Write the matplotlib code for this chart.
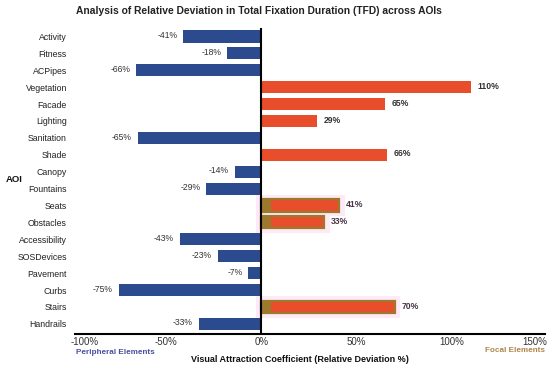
import numpy as np
import matplotlib
matplotlib.use("Agg")
import matplotlib.pyplot as plt

plt.rcParams["font.family"] = ["Liberation Sans", "DejaVu Sans"]

aois = ["Activity", "Fitness", "ACPipes", "Vegetation", "Facade", "Lighting",
        "Sanitation", "Shade", "Canopy", "Fountains", "Seats", "Obstacles",
        "Accessibility", "SOSDevices", "Pavement", "Curbs", "Stairs", "Handrails"]
deviation = [-41, -18, -66, 110, 65, 29, -65, 66, -14, -29, 41, 33,
             -43, -23, -7, -75, 70, -33]
highlighted = ["Seats", "Obstacles", "Stairs"]
xticks = [-100, -50, 0, 50, 100, 150]

blue = "#2c4a8e"
orange = "#e84e2c"
olive = "#9b7a2e"
pink = "#fdeaf6"

fig = plt.figure(figsize=(5.5, 3.69), dpi=100)
ax = fig.add_axes([71 / 550, 0.095, 476 / 550, 0.829])

y = np.arange(len(aois))
vals = np.array(deviation)
colors = [blue if v < 0 else orange for v in vals]

# pink glow behind highlighted bars
for i, name in enumerate(aois):
    if name in highlighted:
        ax.barh(i, vals[i] + 6, left=-3, height=1.3, color=pink, zorder=1)

bars = ax.barh(y, vals, height=0.72, color=colors, zorder=2)
for i, name in enumerate(aois):
    if name in highlighted:
        bars[i].set_edgecolor(olive)
        bars[i].set_linewidth(1.6)
        # olive shading at the base of the bar
        ax.barh(i, 5, left=0, height=0.72, color=olive, zorder=2.5)

for i, v in enumerate(vals):
    if v < 0:
        ax.text(v - 3, i - 0.05, f"{v}%", ha="right", va="center", fontsize=6.2,
                color="#333333", zorder=3)
    else:
        c = "#4a3448" if aois[i] in highlighted else "#333333"
        ax.text(v + 3.5, i - 0.05, f"{v}%", ha="left", va="center", fontsize=6.2,
                color=c, fontweight="bold", zorder=3)

ax.axvline(0, color="black", linewidth=1.5, zorder=4)

ax.set_xlim(-100, 150)
ax.set_ylim(17.6, -0.5)
ax.set_xticks(xticks)
ax.set_xticklabels([f"{t}%" for t in xticks], fontsize=7, color="#333333")
labs = ax.get_xticklabels()
labs[0].set_ha("left")
labs[-1].set_ha("right")
ax.set_yticks(y)
ax.set_yticklabels(aois, fontsize=6.3, color="#222222")
ax.tick_params(axis="y", length=0, pad=3)
ax.tick_params(axis="x", length=0, pad=2)
for s in ["top", "right", "left"]:
    ax.spines[s].set_visible(False)
ax.spines["bottom"].set_linewidth(1.5)
ax.spines["bottom"].set_bounds(-98, 149)

fig.text(259 / 550, 1 - 11 / 369,
         "Analysis of Relative Deviation in Total Fixation Duration (TFD) across AOIs",
         ha="center", va="center", fontsize=7.4, fontweight="bold", color="#222222")
fig.text(6 / 550, 1 - 179 / 369, "AOI", ha="left", va="center",
         fontsize=6.8, fontweight="bold", color="#111111")
fig.text(300 / 550, 1 - 360 / 369,
         "Visual Attraction Coefficient (Relative Deviation %)",
         ha="center", va="center", fontsize=6.5, fontweight="bold", color="#111111")
fig.text(76 / 550, 1 - 352 / 369, "Peripheral Elements", ha="left", va="center",
         fontsize=5.9, fontweight="bold", color="#4a50a0")
fig.text(545 / 550, 1 - 350 / 369, "Focal Elements", ha="right", va="center",
         fontsize=5.9, fontweight="bold", color="#b0864a")

fig.savefig("out.png", dpi=100)
